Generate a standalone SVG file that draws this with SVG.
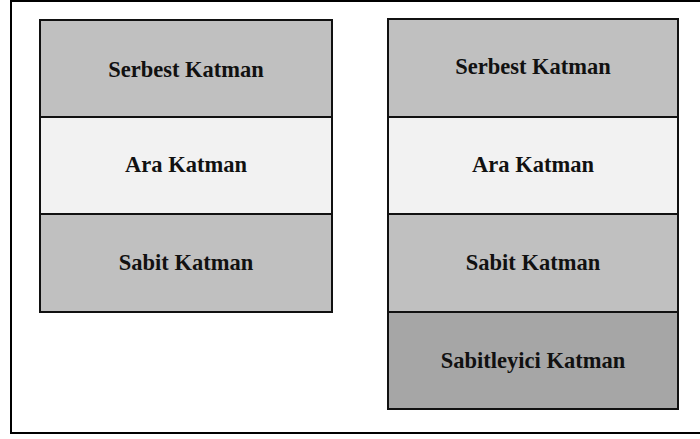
<svg xmlns="http://www.w3.org/2000/svg" width="700" height="439" viewBox="0 0 700 439">
<style>
.lay{stroke:#111;stroke-width:2}
.t{font-family:"Liberation Serif","Times New Roman",serif;font-weight:bold;font-size:22.5px;fill:#111;text-anchor:middle}
</style>
<rect x="0" y="0" width="700" height="439" fill="#fff"/>
<path d="M11 0 V433 H700 M11 1 H700" fill="none" stroke="#000" stroke-width="2"/>
<g id="left-serbest"><rect class="lay" x="40" y="20" width="292" height="97" fill="#c0c0c0"/><text class="t" x="186" y="77">Serbest Katman</text></g>
<g id="left-ara"><rect class="lay" x="40" y="117" width="292" height="97" fill="#f2f2f2"/><text class="t" x="186" y="172">Ara Katman</text></g>
<g id="left-sabit"><rect class="lay" x="40" y="214" width="292" height="98" fill="#c0c0c0"/><text class="t" x="186" y="270">Sabit Katman</text></g>
<g id="right-serbest"><rect class="lay" x="388" y="19" width="290" height="98" fill="#c0c0c0"/><text class="t" x="533" y="74">Serbest Katman</text></g>
<g id="right-ara"><rect class="lay" x="388" y="117" width="290" height="97" fill="#f2f2f2"/><text class="t" x="533" y="172">Ara Katman</text></g>
<g id="right-sabit"><rect class="lay" x="388" y="214" width="290" height="98" fill="#c0c0c0"/><text class="t" x="533" y="270">Sabit Katman</text></g>
<g id="right-sabitleyici"><rect class="lay" x="388" y="312" width="290" height="97" fill="#a6a6a6"/><text class="t" x="533" y="368">Sabitleyici Katman</text></g>
<g id="connectors"/>
</svg>
